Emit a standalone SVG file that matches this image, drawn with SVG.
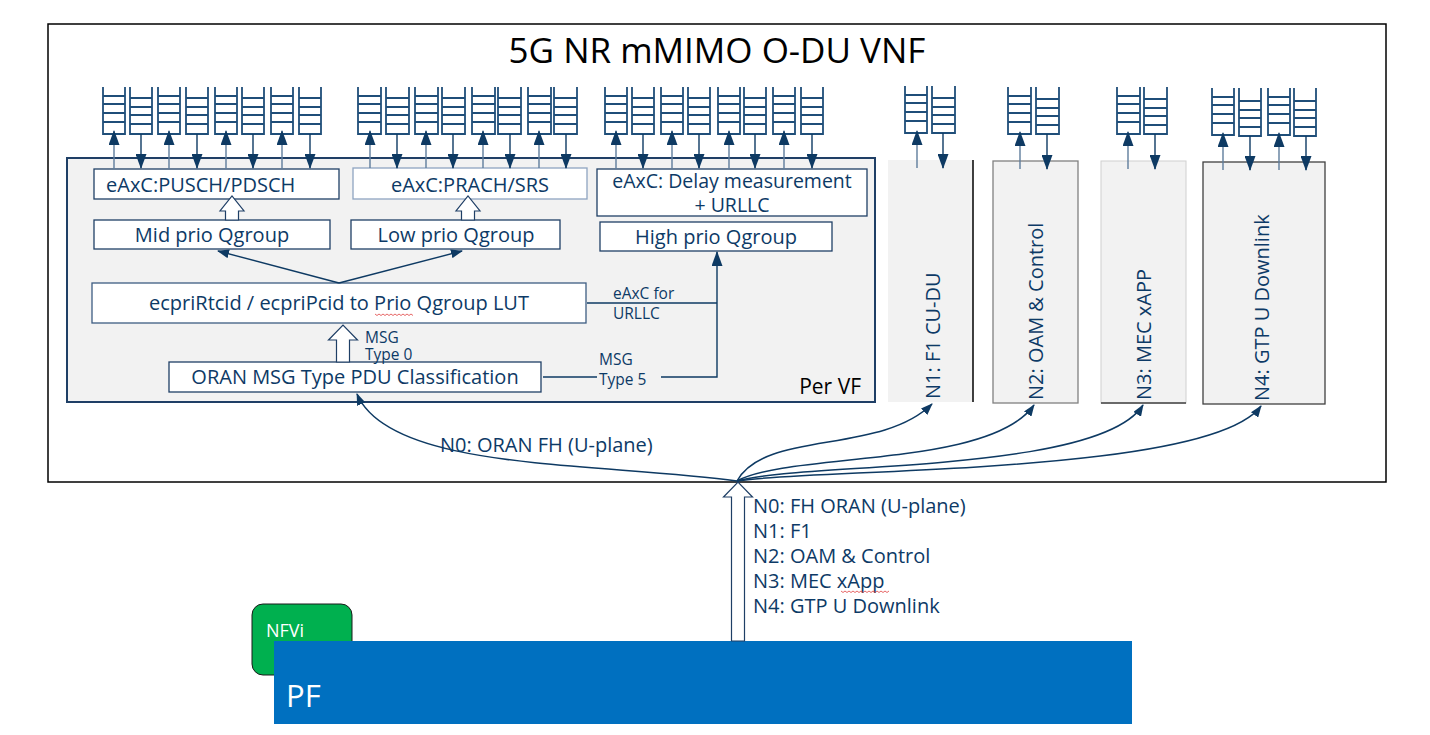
<svg xmlns="http://www.w3.org/2000/svg" width="1430" height="735" viewBox="0 0 1430 735">
<defs>
<marker id="ah" viewBox="0 0 15 11" refX="14" refY="5.5" markerWidth="15" markerHeight="11" markerUnits="userSpaceOnUse" orient="auto"><path d="M0,0 L15,5.5 L0,11 z" fill="#0e3a63"/></marker>
<marker id="ah2" viewBox="0 0 12 9" refX="11" refY="4.5" markerWidth="12" markerHeight="9" markerUnits="userSpaceOnUse" orient="auto"><path d="M0,0 L12,4.5 L0,9 z" fill="#0e3a63"/></marker>
</defs>
<style>
text{font-family:"Open Sans","Noto Sans","DejaVu Sans",sans-serif;fill:#0d3a66}
.t20{font-size:20px}
.t18{font-size:20px}
.t14{font-size:15.5px}
.box{fill:#fff;stroke:#1f3f66;stroke-width:1.3}
.q{fill:none;stroke:#1f4e79;stroke-width:1.8}
.up{stroke:#5f7d9c;stroke-width:1.4;marker-end:url(#ah)}
.dn{stroke:#0e3a63;stroke-width:1.4;marker-end:url(#ah)}
.ln{fill:none;stroke:#0e3a63;stroke-width:1.4}
.cv{fill:none;stroke:#0e3a63;stroke-width:1.5;marker-end:url(#ah2)}
.hol{fill:#fff;stroke:#1f3f66;stroke-width:1.2}
.sq{fill:none;stroke:#e04040;stroke-width:0.8}
</style>

<g id="vnf">
<rect x="48" y="24" width="1338" height="458" fill="#fff" stroke="#000" stroke-width="1.5"/>
<text x="717" y="63" text-anchor="middle" style="font-size:35px;fill:#000">5G NR mMIMO O-DU VNF</text>
</g>

<g id="per-vf">
<rect x="67" y="158" width="808" height="244" fill="#f2f2f2" stroke="#1f3f66" stroke-width="2"/>
<text x="861" y="394" text-anchor="end" style="font-size:21px;fill:#000">Per VF</text>
</g>

<g id="queues-a">
<path class="q" d="M103,87V134H125V87M103,96H125M103,104H125M103,113H125M103,122H125"/>
<path class="q" d="M130,87V134H152V87M130,98H152M130,107H152M130,115H152M130,124H152"/>
<path class="q" d="M158,87V134H180V87M158,96H180M158,104H180M158,113H180M158,122H180"/>
<path class="q" d="M186,87V134H208V87M186,98H208M186,107H208M186,115H208M186,124H208"/>
<path class="q" d="M215,87V134H237V87M215,96H237M215,104H237M215,113H237M215,122H237"/>
<path class="q" d="M242,87V134H264V87M242,98H264M242,107H264M242,115H264M242,124H264"/>
<path class="q" d="M271,87V134H293V87M271,96H293M271,104H293M271,113H293M271,122H293"/>
<path class="q" d="M299,87V134H321V87M299,98H321M299,107H321M299,115H321M299,124H321"/>
</g>
<g id="queues-b">
<path class="q" d="M358,87V134H381V87M358,96H381M358,104H381M358,113H381M358,122H381"/>
<path class="q" d="M386,87V134H409V87M386,98H409M386,107H409M386,115H409M386,124H409"/>
<path class="q" d="M415,87V134H438V87M415,96H438M415,104H438M415,113H438M415,122H438"/>
<path class="q" d="M442,87V134H465V87M442,98H465M442,107H465M442,115H465M442,124H465"/>
<path class="q" d="M472,87V134H495V87M472,96H495M472,104H495M472,113H495M472,122H495"/>
<path class="q" d="M498,87V134H521V87M498,98H521M498,107H521M498,115H521M498,124H521"/>
<path class="q" d="M528,87V134H551V87M528,96H551M528,104H551M528,113H551M528,122H551"/>
<path class="q" d="M554,87V134H577V87M554,98H577M554,107H577M554,115H577M554,124H577"/>
</g>
<g id="queues-c">
<path class="q" d="M605,87V134H627V87M605,96H627M605,104H627M605,113H627M605,122H627"/>
<path class="q" d="M632,87V134H654V87M632,98H654M632,107H654M632,115H654M632,124H654"/>
<path class="q" d="M661,87V134H683V87M661,96H683M661,104H683M661,113H683M661,122H683"/>
<path class="q" d="M688,87V134H710V87M688,98H710M688,107H710M688,115H710M688,124H710"/>
<path class="q" d="M718,87V134H740V87M718,96H740M718,104H740M718,113H740M718,122H740"/>
<path class="q" d="M744,87V134H766V87M744,98H766M744,107H766M744,115H766M744,124H766"/>
<path class="q" d="M773,87V134H795V87M773,96H795M773,104H795M773,113H795M773,122H795"/>
<path class="q" d="M801,87V134H823V87M801,98H823M801,107H823M801,115H823M801,124H823"/>
</g>
<g id="queues-n">
<path class="q" d="M905,86V133H927V86M905,95H927M905,103H927M905,112H927M905,121H927"/>
<path class="q" d="M932,86V133H955V86M932,98H955M932,107H955M932,115H955M932,124H955"/>
<path class="q" d="M1008,87V134H1031V87M1008,96H1031M1008,104H1031M1008,113H1031M1008,122H1031"/>
<path class="q" d="M1036,87V134H1059V87M1036,99H1059M1036,108H1059M1036,116H1059M1036,125H1059"/>
<path class="q" d="M1117,87V134H1140V87M1117,96H1140M1117,104H1140M1117,113H1140M1117,122H1140"/>
<path class="q" d="M1144,87V134H1167V87M1144,99H1167M1144,108H1167M1144,116H1167M1144,125H1167"/>
<path class="q" d="M1212,88V135H1234V88M1212,97H1234M1212,105H1234M1212,114H1234M1212,123H1234"/>
<path class="q" d="M1239,88V136H1261V88M1239,101H1261M1239,110H1261M1239,118H1261M1239,127H1261"/>
<path class="q" d="M1268,88V135H1290V88M1268,97H1290M1268,105H1290M1268,114H1290M1268,123H1290"/>
<path class="q" d="M1294,88V136H1316V88M1294,101H1316M1294,110H1316M1294,118H1316M1294,127H1316"/>
</g>

<g id="box-pusch"><rect class="box" x="94" y="169" width="245" height="30"/><text class="t20" x="106" y="192">eAxC:PUSCH/PDSCH</text></g>
<g id="box-prach"><rect x="353" y="168" width="234" height="31" fill="#fff" stroke="#8ea4c0" stroke-width="1.3"/><text class="t20" x="470" y="192" text-anchor="middle">eAxC:PRACH/SRS</text></g>
<g id="box-delay"><rect class="box" x="597" y="169" width="270" height="47"/><text x="732" y="188" text-anchor="middle" style="font-size:19.5px">eAxC: Delay measurement</text><text x="732" y="212" text-anchor="middle" style="font-size:19.5px">+ URLLC</text></g>
<g id="box-mid"><rect class="box" x="94" y="220" width="236" height="29"/><text class="t20" x="212" y="242" text-anchor="middle">Mid prio Qgroup</text></g>
<g id="box-low"><rect class="box" x="351" y="220" width="209" height="29"/><text class="t20" x="456" y="242" text-anchor="middle">Low prio Qgroup</text></g>
<g id="box-high"><rect class="box" x="600" y="222" width="232" height="29"/><text class="t20" x="716" y="244" text-anchor="middle">High prio Qgroup</text></g>
<g id="box-lut"><rect x="92" y="283" width="494" height="40" fill="#fff" stroke="#3d5c82" stroke-width="1.3"/><text class="t20" x="339" y="310" text-anchor="middle">ecpriRtcid / ecpriPcid to Prio Qgroup LUT</text><path class="sq" d="M375,314l2,1.5l2,-1.5l2,1.5l2,-1.5l2,1.5l2,-1.5l2,1.5l2,-1.5l2,1.5l2,-1.5l2,1.5l2,-1.5l2,1.5l2,-1.5l2,1.5l2,-1.5l2,1.5l2,-1.5l2,1.5"/></g>
<g id="box-oran"><rect class="box" x="169" y="362" width="372" height="30"/><text class="t20" x="355" y="384" text-anchor="middle">ORAN MSG Type PDU Classification</text></g>

<g id="box-n1"><rect x="888" y="160" width="85" height="242" fill="#f2f2f2"/><line x1="973" y1="160" x2="973" y2="402" stroke="#000" stroke-width="1.5"/><text class="t20" transform="translate(940,399) rotate(-90)">N1: F1 CU-DU</text></g>
<g id="box-n2"><rect x="993" y="161" width="85" height="242" fill="#f2f2f2" stroke="#808080" stroke-width="1.3"/><text class="t20" transform="translate(1043,400) rotate(-90)">N2: OAM &amp; Control</text></g>
<g id="box-n3"><rect x="1101" y="161" width="85" height="242" fill="#f2f2f2" stroke="#d0d0d0" stroke-width="1"/><line x1="1101" y1="403" x2="1186" y2="403" stroke="#404040" stroke-width="1.3"/><text class="t20" transform="translate(1151,400) rotate(-90)">N3: MEC xAPP</text></g>
<g id="box-n4"><rect x="1203" y="162" width="122" height="242" fill="#f2f2f2" stroke="#404040" stroke-width="1.3"/><text class="t20" transform="translate(1269,401) rotate(-90)">N4: GTP U Downlink</text></g>

<g id="nfvi"><rect x="252" y="604" width="100" height="71" rx="11" fill="#00b04f" stroke="#1a1a1a" stroke-width="1"/><text x="266" y="637" style="font-size:18px;fill:#fff">NFVi</text></g>
<g id="pf"><rect x="274" y="641" width="858" height="83" fill="#0070c0"/><text x="286" y="707" style="font-size:31px;fill:#fff">PF</text></g>

<g id="connectors">
<line class="up" x1="114" y1="169" x2="114" y2="131"/><line class="dn" x1="141" y1="134" x2="141" y2="168"/>
<line class="up" x1="169" y1="169" x2="169" y2="131"/><line class="dn" x1="197" y1="134" x2="197" y2="168"/>
<line class="up" x1="226" y1="169" x2="226" y2="131"/><line class="dn" x1="253" y1="134" x2="253" y2="168"/>
<line class="up" x1="282" y1="169" x2="282" y2="131"/><line class="dn" x1="310" y1="134" x2="310" y2="168"/>
<line class="up" x1="370" y1="168" x2="370" y2="131"/><line class="dn" x1="397" y1="134" x2="397" y2="168"/>
<line class="up" x1="426" y1="168" x2="426" y2="131"/><line class="dn" x1="453" y1="134" x2="453" y2="168"/>
<line class="up" x1="483" y1="168" x2="483" y2="131"/><line class="dn" x1="510" y1="134" x2="510" y2="168"/>
<line class="up" x1="539" y1="168" x2="539" y2="131"/><line class="dn" x1="566" y1="134" x2="566" y2="168"/>
<line class="up" x1="616" y1="169" x2="616" y2="131"/><line class="dn" x1="643" y1="134" x2="643" y2="168"/>
<line class="up" x1="672" y1="169" x2="672" y2="131"/><line class="dn" x1="699" y1="134" x2="699" y2="168"/>
<line class="up" x1="729" y1="169" x2="729" y2="131"/><line class="dn" x1="755" y1="134" x2="755" y2="168"/>
<line class="up" x1="784" y1="169" x2="784" y2="131"/><line class="dn" x1="812" y1="134" x2="812" y2="168"/>
<line class="up" x1="917" y1="168" x2="917" y2="131"/><line class="dn" x1="943" y1="133" x2="943" y2="168"/>
<line class="up" x1="1020" y1="169" x2="1020" y2="132"/><line class="dn" x1="1047" y1="134" x2="1047" y2="169"/>
<line class="up" x1="1128" y1="169" x2="1128" y2="132"/><line class="dn" x1="1155" y1="134" x2="1155" y2="169"/>
<line class="up" x1="1223" y1="170" x2="1223" y2="133"/><line class="dn" x1="1250" y1="136" x2="1250" y2="170"/>
<line class="up" x1="1279" y1="170" x2="1279" y2="133"/><line class="dn" x1="1306" y1="136" x2="1306" y2="170"/>
<path class="hol" d="M225.5,220V211H220L232,196L244,211H238.5V220Z"/>
<path class="hol" d="M461.5,220V211H456L468,196L480,211H474.5V220Z"/>
<path class="hol" d="M336.5,362V340H328.5L343,325L357.5,340H349.5V362Z"/>
<path class="hol" d="M731.5,641V497H723.5L738,482L752.5,497H744.5V641Z"/>
<line class="ln" x1="339" y1="283" x2="218" y2="251" marker-end="url(#ah2)"/>
<line class="ln" x1="339" y1="283" x2="462" y2="251" marker-end="url(#ah2)"/>
<line class="ln" x1="587" y1="303" x2="717" y2="303"/>
<polyline class="ln" points="543,377 597,377"/>
<polyline class="ln" points="661,377 717,377 717,252" marker-end="url(#ah)"/>
<text class="t14" x="613" y="299">eAxC for</text>
<text class="t14" x="613" y="319">URLLC</text>
<text class="t14" x="599" y="365">MSG</text>
<text class="t14" x="599" y="385">Type 5</text>
<text class="t14" x="365" y="343">MSG</text>
<text class="t14" x="365" y="360">Type 0</text>
<path class="cv" d="M737,481 C600,462 390,472 357,394"/>
<path class="cv" d="M737,481 C765,430 880,455 932,404"/>
<path class="cv" d="M737,481 C790,452 990,468 1034,405"/>
<path class="cv" d="M737,481 C800,462 1100,474 1143,405"/>
<path class="cv" d="M737,481 C810,468 1210,476 1261,406"/>
<text class="t18" x="440" y="452">N0: ORAN FH (U-plane)</text>
</g>

<g id="legend">
<text class="t18" x="753" y="513">N0: FH ORAN (U-plane)</text>
<text class="t18" x="753" y="538">N1: F1</text>
<text class="t18" x="753" y="563">N2: OAM &amp; Control</text>
<text class="t18" x="753" y="588">N3: MEC xApp</text>
<text class="t18" x="753" y="613">N4: GTP U Downlink</text>
<path class="sq" d="M841,591l2,1.5l2,-1.5l2,1.5l2,-1.5l2,1.5l2,-1.5l2,1.5l2,-1.5l2,1.5l2,-1.5l2,1.5l2,-1.5l2,1.5l2,-1.5l2,1.5l2,-1.5l2,1.5l2,-1.5l2,1.5l2,-1.5l2,1.5l2,-1.5l2,1.5l2,-1.5"/>
</g>
</svg>
